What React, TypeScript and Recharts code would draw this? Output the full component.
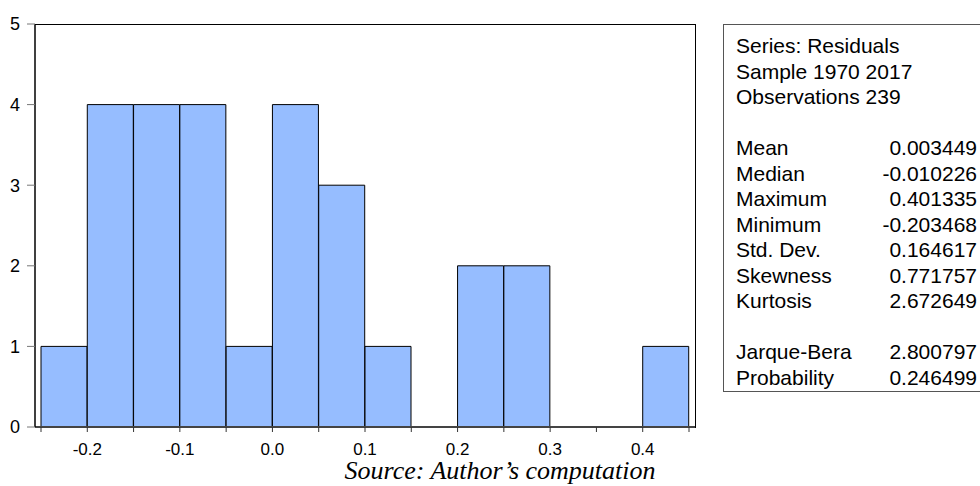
import { Bar, BarChart, XAxis, YAxis } from "recharts";

// histogram bins (lower edge) and counts
const binStarts = [-0.25, -0.2, -0.15, -0.1, -0.05, 0.0, 0.05, 0.1, 0.15, 0.2, 0.25, 0.3, 0.35, 0.4];
const counts = [1, 4, 4, 4, 1, 4, 3, 1, 0, 2, 2, 0, 0, 1];

const xTicks = [-0.25, -0.2, -0.15, -0.1, -0.05, 0.0, 0.05, 0.1, 0.15, 0.2, 0.25, 0.3, 0.35, 0.4, 0.45];
const xTickLabels = ["", "-0.2", "", "-0.1", "", "0.0", "", "0.1", "", "0.2", "", "0.3", "", "0.4", ""];
const yTicks = [0, 1, 2, 3, 4, 5];

const statsHeader = ["Series: Residuals", "Sample 1970 2017", "Observations 239"];
const statNames = ["Mean", "Median", "Maximum", "Minimum", "Std. Dev.", "Skewness", "Kurtosis"];
const statValues = ["0.003449", "-0.010226", "0.401335", "-0.203468", "0.164617", "0.771757", "2.672649"];
const testNames = ["Jarque-Bera", "Probability"];
const testValues = ["2.800797", "0.246499"];

const data = binStarts.map((b, i) => ({ bin: String(b), mid: b + 0.025, count: counts[i] }));

const pad = { left: 6, right: 7 };
const sans = "'Liberation Sans', Arial, sans-serif";

const Row = ({ name, value }: { name: string; value?: string }) => (
  <div style={{ display: "flex", justifyContent: "space-between", height: 25.5 }}>
    <span>{name}</span>
    <span>{value}</span>
  </div>
);

const App = () => {
  return (
    <div style={{ position: "fixed", left: 0, top: 0, width: 980, height: 486, overflow: "hidden", background: "#fff" }}>
      <BarChart
        width={980}
        height={486}
        data={data}
        margin={{ top: 24, right: 284, bottom: 25, left: 0 }}
        barCategoryGap={0}
        barGap={0}
      >
        <XAxis xAxisId="cat" dataKey="bin" type="category" hide height={0} padding={pad} />
        <XAxis
          xAxisId="num"
          dataKey="mid"
          type="number"
          domain={[-0.25, 0.45]}
          allowDataOverflow
          ticks={xTicks}
          interval={0}
          padding={pad}
          height={34}
          tickSize={5}
          tickMargin={11}
          tickFormatter={(v: number) => xTickLabels[xTicks.findIndex((t) => Math.abs(t - v) < 1e-9)] ?? ""}
          axisLine={{ stroke: "#444", strokeWidth: 2 }}
          tickLine={{ stroke: "#333" }}
          tick={{ fill: "#000", fontSize: 17, fontFamily: sans }}
        />
        <YAxis
          domain={[0, 5]}
          ticks={yTicks}
          interval={0}
          width={35}
          tickSize={8}
          tickMargin={7}
          axisLine={{ stroke: "#000", strokeWidth: 1.5 }}
          tickLine={{ stroke: "#777" }}
          tick={{ fill: "#000", fontSize: 18, fontFamily: sans }}
        />
        <Bar
          xAxisId="cat"
          dataKey="count"
          fill="#96BDFF"
          stroke="#000"
          strokeWidth={1}
          isAnimationActive={false}
        />
      </BarChart>

      {/* plot frame */}
      <div
        style={{
          position: "absolute",
          left: 35,
          top: 24,
          width: 661,
          height: 404,
          borderTop: "1px solid #000",
          borderRight: "1px solid #000",
          boxSizing: "border-box",
          pointerEvents: "none",
        }}
      />

      <div
        style={{
          position: "absolute",
          left: 723,
          top: 24,
          width: 300,
          height: 368,
          border: "1px solid #555",
          boxSizing: "border-box",
          fontFamily: sans,
          fontSize: 21,
          lineHeight: "25.5px",
          color: "#000",
        }}
      >
        <div style={{ position: "absolute", left: 12, top: 8, width: 241 }}>
          {statsHeader.map((h) => (
            <Row key={h} name={h} />
          ))}
          <Row name="" />
          {statNames.map((n, i) => (
            <Row key={n} name={n} value={statValues[i]} />
          ))}
          <Row name="" />
          {testNames.map((n, i) => (
            <Row key={n} name={n} value={testValues[i]} />
          ))}
        </div>
      </div>

      <div
        style={{
          position: "absolute",
          left: 0,
          width: 1000,
          top: 458,
          textAlign: "center",
          fontFamily: "'Liberation Serif', 'Times New Roman', serif",
          fontStyle: "italic",
          fontSize: 26,
          lineHeight: "26px",
          color: "#000",
        }}
      >
        Source: Author’s computation
      </div>
    </div>
  );
};

export default App;
